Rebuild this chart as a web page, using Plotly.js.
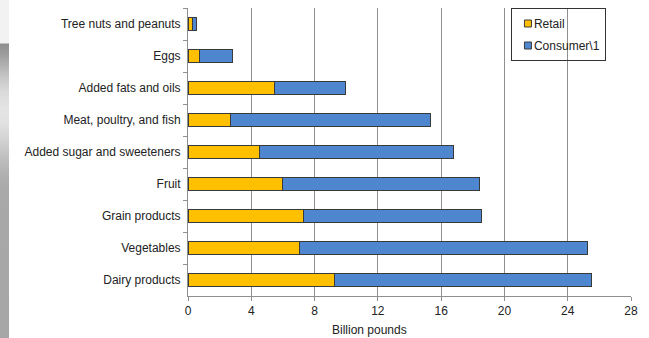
<!DOCTYPE html>
<html>
<head>
<meta charset="utf-8">
<script src="https://cdn.plot.ly/plotly-3.0.1.min.js"></script>
<style>
  html, body { margin: 0; padding: 0; background: #ffffff; }
  #wrap { position: relative; width: 649px; height: 338px; overflow: hidden; }
  #edge {
    position: absolute; left: 0; top: 0; width: 9px; height: 338px;
    background: linear-gradient(to bottom,
      #f2f2f2 0px, #f2f2f2 43px,
      #8e8e8e 44px, #9c9c9c 54px, #b2b2b2 66px, #c8c8c8 78px,
      #dadada 92px, #e4e4e4 108px, #e2e2e2 122px, #d4d4d4 138px,
      #c2c2c2 155px, #b2b2b2 172px, #a9a9a9 190px, #a6a6a6 338px);
  }
  #chart { position: absolute; left: 0; top: 0; }
</style>
</head>
<body>
<div id="wrap">
  <div id="edge"></div>
  <div id="chart"></div>
</div>
<script>
// Food categories, listed top to bottom
const categories = [
  'Tree nuts and peanuts',
  'Eggs',
  'Added fats and oils',
  'Meat, poultry, and fish',
  'Added sugar and sweeteners',
  'Fruit',
  'Grain products',
  'Vegetables',
  'Dairy products'
];

// Billion pounds
const retail   = [0.27, 0.74, 5.48, 2.69, 4.52, 5.99, 7.27, 7.04, 9.29];
const consumer = [0.28, 2.08, 4.50, 12.65, 12.24, 12.45, 11.28, 18.21, 16.21];

const xTicks = [0, 4, 8, 12, 16, 20, 24, 28];

const outline = { color: '#3a3a3a', width: 1 };

const traces = [
  {
    type: 'bar', orientation: 'h', name: 'Retail', legendgroup: 'r',
    y: categories, x: retail,
    marker: { color: '#FFC000', line: outline },
    hoverinfo: 'x+y+name'
  },
  {
    type: 'bar', orientation: 'h', name: 'Consumer\\1', legendgroup: 'c',
    y: categories, x: consumer,
    marker: { color: '#4F86D0', line: outline },
    hoverinfo: 'x+y+name'
  }
];

const layout = {
  width: 649, height: 338,
  margin: { l: 188, r: 18, t: 8, b: 42 },
  paper_bgcolor: 'rgba(0,0,0,0)',
  plot_bgcolor: '#ffffff',
  barmode: 'stack',
  bargap: 0.57,
  font: { family: 'Liberation Sans, Arial, sans-serif', size: 12, color: '#222222' },
  showlegend: true,
  legend: {
    x: 0.729, y: 1.0, xanchor: 'left', yanchor: 'top',
    bgcolor: 'rgba(0,0,0,0)', bordercolor: '#333333', borderwidth: 1,
    font: { size: 12, color: '#222222' },
    traceorder: 'grouped', tracegroupgap: 3,
    itemwidth: 30
  },
  xaxis: {
    range: [0, 28],
    tickvals: xTicks,
    ticktext: xTicks.map(String),
    showgrid: true, gridcolor: '#8f8f8f', gridwidth: 1,
    zeroline: false,
    showline: true, linecolor: '#8f8f8f', linewidth: 1,
    ticks: 'outside', ticklen: 4, tickcolor: '#8f8f8f',
    tickfont: { size: 12, color: '#222222' },
    fixedrange: true
  },
  yaxis: {
    type: 'category',
    categoryorder: 'array', categoryarray: categories,
    autorange: 'reversed',
    showgrid: false, zeroline: false,
    showline: true, linecolor: '#8f8f8f', linewidth: 1,
    ticks: 'outside', ticklen: 4, tickcolor: '#8f8f8f',
    tickson: 'boundaries',
    ticklabelstandoff: 4,
    tickfont: { size: 12, color: '#222222' },
    fixedrange: true
  },
  annotations: [{
    text: 'Billion pounds', xref: 'paper', yref: 'paper',
    x: 0.41, y: 0, yshift: -34, xanchor: 'center', yanchor: 'middle',
    showarrow: false, font: { size: 12, color: '#222222' }
  }]
};

// Compact legend keys: small square swatches sitting close to their labels
function compactLegend(gd) {
  const leg = gd.querySelector('.legend');
  if (!leg) return;
  const shift = 18;
  leg.querySelectorAll('.traces').forEach(function (t) {
    t.querySelectorAll('.legendpoints path').forEach(function (p) {
      p.setAttribute('d', 'M3.5,3.5V-3.5H-3.5V3.5Z');
      p.setAttribute('transform', 'translate(16,0)');
    });
    const txt = t.querySelector('.legendtext');
    if (txt) {
      const x0 = parseFloat(txt.getAttribute('x')) || 40;
      txt.setAttribute('x', x0 - shift);
    }
  });
  const bg = leg.querySelector('rect.bg');
  if (bg) {
    const w = parseFloat(bg.getAttribute('width'));
    bg.setAttribute('width', w - shift);
  }
}

Plotly.newPlot('chart', traces, layout, { displayModeBar: false, staticPlot: true })
  .then(compactLegend);
</script>
</body>
</html>
